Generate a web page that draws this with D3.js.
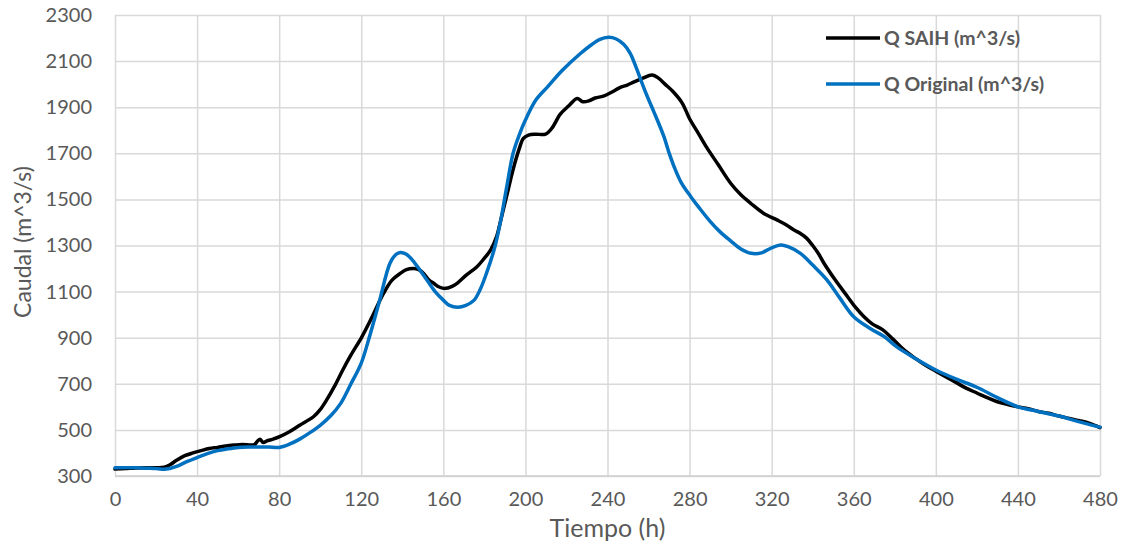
<!DOCTYPE html>
<html>
<head>
<meta charset="utf-8">
<script src="https://cdn.jsdelivr.net/npm/d3@7"></script>
<style>
  html, body { margin: 0; padding: 0; background: #fff; }
  svg { display: block; }
  text { font-family: Lato, "Open Sans", sans-serif; fill: #595959; }
</style>
</head>
<body>
<svg id="chart" width="1125" height="547"></svg>
<script>
// Hydrograph: measured discharge (SAIH) vs. original discharge, over time in hours
const saihHours = [0, 5, 10, 15, 20, 24, 27, 30, 34, 38, 42, 46, 50, 54, 58, 62, 66, 68, 69.5, 70.7, 72.3, 74, 77, 80.5, 85, 90, 96.7, 100, 103, 107, 111, 115, 120.3, 125, 130.9, 135, 139, 142, 145.5, 148, 150.4, 153, 155.3, 158, 161, 164, 166.7, 171, 176.4, 180, 183, 186, 188, 191, 194, 197, 199, 201.5, 205, 209.8, 213, 217, 221, 225.2, 228, 231, 234, 238, 242, 246, 249.6, 253, 257, 261.8, 265, 268, 272, 276.4, 280, 283.7, 288, 294, 300, 305, 309.8, 316, 322.8, 327, 330.9, 334, 337, 340, 343, 345.5, 351, 357, 361, 365, 369, 374, 379, 384.5, 390, 395, 400, 405, 410, 415, 420, 425, 430, 435, 440, 445, 450, 455, 460, 465, 470, 475, 480];
const saihFlow = [330, 332, 335, 336, 336, 338, 350, 368, 388, 400, 410, 419, 424, 430, 434, 437, 435, 436, 452, 459, 445, 452, 460, 472, 492, 520, 557, 588, 628, 690, 760, 825, 904, 985, 1093, 1150, 1179, 1195, 1200, 1195, 1179, 1150, 1136, 1120, 1114, 1122, 1136, 1170, 1208, 1245, 1280, 1340, 1410, 1520, 1630, 1720, 1765, 1779, 1783, 1783, 1810, 1870, 1905, 1938, 1924, 1928, 1940, 1948, 1965, 1985, 1996, 2010, 2025, 2040, 2025, 2000, 1967, 1918, 1850, 1795, 1730, 1650, 1570, 1520, 1483, 1440, 1410, 1390, 1367, 1352, 1332, 1300, 1262, 1223, 1150, 1078, 1030, 991, 960, 935, 895, 847, 810, 780, 755, 730, 705, 680, 660, 640, 622, 610, 600, 592, 580, 572, 560, 550, 540, 528, 510];

const origHours = [0, 10, 20, 25, 30, 35, 40, 45, 50, 55, 60, 65, 70, 75, 80, 85, 90, 95, 100, 105, 110, 115, 120, 124, 129, 134, 137, 139, 142, 146, 152, 156, 160, 163, 167, 171, 175, 178, 181, 185, 188, 191, 194, 197, 200, 205, 211, 218, 226.8, 232, 236, 240.6, 244, 248, 251, 254, 256, 259, 262.6, 267.5, 270, 273, 276, 280.5, 285, 290, 295, 300, 305, 310, 315, 320, 324.5, 328, 334, 340, 347, 353, 360, 368, 375, 381, 390, 400, 410, 420, 430, 440, 450, 460, 470, 480];
const origFlow = [336, 336, 332, 330, 342, 362, 380, 397, 410, 418, 424, 426, 426, 426, 424, 438, 460, 488, 520, 560, 615, 700, 790, 904, 1063, 1223, 1262, 1270, 1262, 1225, 1150, 1100, 1063, 1040, 1032, 1040, 1063, 1110, 1179, 1290, 1410, 1560, 1700, 1780, 1844, 1930, 1990, 2060, 2133, 2170, 2193, 2203, 2197, 2172, 2135, 2072, 2024, 1955, 1880, 1772, 1702, 1630, 1572, 1513, 1460, 1405, 1358, 1320, 1285, 1266, 1268, 1290, 1302, 1295, 1266, 1215, 1150, 1075, 991, 940, 904, 860, 810, 760, 720, 685, 640, 600, 580, 560, 535, 512];

const xTicks = [0, 40, 80, 120, 160, 200, 240, 280, 320, 360, 400, 440, 480];
const yTicks = [300, 500, 700, 900, 1100, 1300, 1500, 1700, 1900, 2100, 2300];

const seriesNames = ["Q SAIH (m^3/s)", "Q Original (m^3/s)"];
const seriesColors = ["#000000", "#0070C0"];

const svg = d3.select("#chart");
const margin = { left: 115, right: 25, top: 15, bottom: 71 };
const width = 1125, height = 547;

const x = d3.scaleLinear().domain([0, 480]).range([margin.left, width - margin.right]);
const y = d3.scaleLinear().domain([300, 2300]).range([height - margin.bottom, margin.top]);

// Horizontal gridlines
svg.append("g")
  .attr("transform", `translate(${margin.left},0)`)
  .call(d3.axisLeft(y).tickValues(yTicks).tickSize(-(x.range()[1] - x.range()[0])).tickFormat(d3.format("d")).tickPadding(23))
  .call(g => g.select(".domain").remove())
  .call(g => g.selectAll(".tick line").attr("stroke", "#d9d9d9").attr("stroke-width", 1.5))
  .call(g => g.selectAll(".tick text").attr("font-size", 20).attr("fill", "#595959").style("font-family", "Lato, sans-serif"));

// Vertical gridlines and x labels
svg.append("g")
  .attr("transform", `translate(0,${y(300)})`)
  .call(d3.axisBottom(x).tickValues(xTicks).tickSize(-(y.range()[0] - y.range()[1])).tickFormat(d3.format("d")).tickPadding(16))
  .call(g => g.select(".domain").remove())
  .call(g => g.selectAll(".tick line").attr("stroke", "#d9d9d9").attr("stroke-width", 1.5))
  .call(g => g.selectAll(".tick text").attr("font-size", 20).attr("fill", "#595959").style("font-family", "Lato, sans-serif"));

// Baseline
svg.append("line")
  .attr("x1", x(0)).attr("x2", x(480))
  .attr("y1", y(300)).attr("y2", y(300))
  .attr("stroke", "#cfcfcf").attr("stroke-width", 1.5);

// Series lines
const lineSaih = d3.line()
  .x((d, i) => x(saihHours[i]))
  .y(d => y(d))
  .curve(d3.curveCatmullRom.alpha(0.5));
const lineOrig = d3.line()
  .x((d, i) => x(origHours[i]))
  .y(d => y(d))
  .curve(d3.curveCatmullRom.alpha(0.5));

svg.append("path")
  .attr("d", lineSaih(saihFlow))
  .attr("fill", "none").attr("stroke", seriesColors[0])
  .attr("stroke-width", 3.5).attr("stroke-linejoin", "round").attr("stroke-linecap", "round");

svg.append("path")
  .attr("d", lineOrig(origFlow))
  .attr("fill", "none").attr("stroke", seriesColors[1])
  .attr("stroke-width", 3.5).attr("stroke-linejoin", "round").attr("stroke-linecap", "round");

// Legend
const legend = svg.append("g");
const legendY = [38, 84];
seriesNames.forEach((name, i) => {
  legend.append("line")
    .attr("x1", 826).attr("x2", 880)
    .attr("y1", legendY[i]).attr("y2", legendY[i])
    .attr("stroke", seriesColors[i]).attr("stroke-width", 3.5);
  legend.append("text")
    .attr("x", 884).attr("y", legendY[i] + 7)
    .attr("font-size", 19.5).attr("font-weight", "bold")
    .text(name);
});

// Axis titles
svg.append("text")
  .attr("transform", "translate(31,242) rotate(-90)")
  .attr("text-anchor", "middle")
  .attr("font-size", 23)
  .text("Caudal (m^3/s)");

svg.append("text")
  .attr("x", (x(0) + x(480)) / 2)
  .attr("y", 537)
  .attr("text-anchor", "middle")
  .attr("font-size", 25)
  .text("Tiempo (h)");
</script>
</body>
</html>
